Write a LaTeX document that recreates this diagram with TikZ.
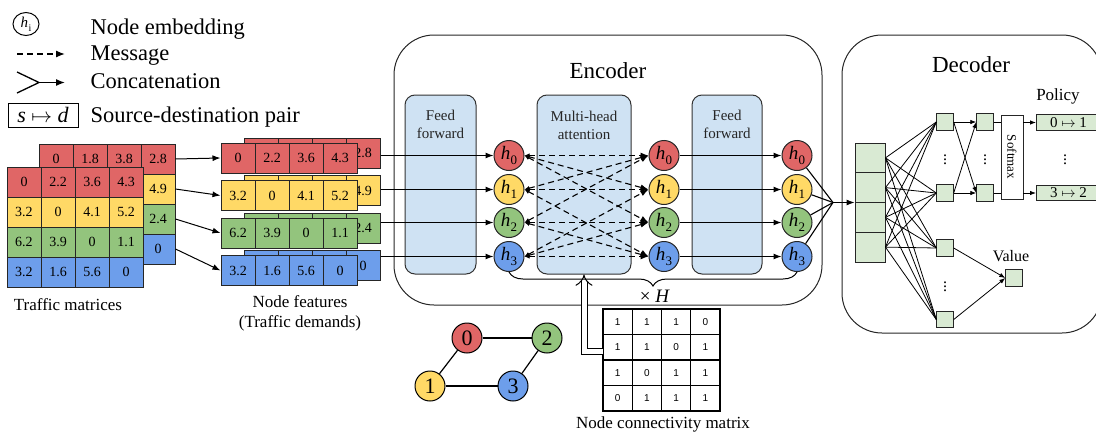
\documentclass[tikz,border=0pt]{standalone}
\usepackage{fontspec}
\setmainfont{Liberation Serif}
\newfontfamily\sansf{Liberation Sans}
\usetikzlibrary{arrows.meta,shapes.geometric,decorations.pathreplacing,calc}
\definecolor{cR}{HTML}{E06666}
\definecolor{cY}{HTML}{FFD966}
\definecolor{cG}{HTML}{93C47D}
\definecolor{cB}{HTML}{6D9EEB}
\definecolor{lblue}{HTML}{CFE2F3}
\definecolor{lgreen}{HTML}{D9EAD3}
\newcommand\fs[2]{\fontsize{#1}{#2}\selectfont}
\newcommand\hh[1]{\textit{h}\kern0.3pt\raisebox{-5pt}{\fs{13}{14}#1}}
\newcommand\hleg{\textit{h}\kern0.3pt\raisebox{-4pt}{\fs{10}{11}i}}
\begin{document}
\begin{tikzpicture}[x=1pt,y=-1pt,
  cell/.style={draw=black!85, line width=1pt, minimum width=34pt, minimum height=30pt, inner sep=0pt, font=\fs{14}{16}},
  hnode/.style={circle, draw=black!85, line width=1pt, minimum size=30pt, inner sep=0pt, font=\fs{19}{20}},
  block/.style={draw=black!80, line width=1pt, fill=lblue, rounded corners=10pt, minimum height=179pt, inner sep=0pt},
  blocktext/.style={font=\fs{15}{18}, align=center, text=black!85},
  arr/.style={line width=1pt, -{Latex[length=8pt,width=6pt]}},
  msg/.style={line width=1.1pt, dash pattern=on 6pt off 4pt, {Latex[length=5pt,width=4.5pt]}-{Latex[length=8pt,width=6pt]}},
  sbox/.style={draw=black!85, line width=0.9pt, fill=lgreen, minimum size=16.5pt, inner sep=0pt},
  thinl/.style={line width=0.8pt},
  sarr/.style={line width=0.8pt, -{Latex[length=6pt,width=4.5pt]}},
  gnode/.style={circle, draw, line width=1pt, minimum size=30pt, inner sep=0pt, font=\fs{22}{24}},
  cmcell/.style={draw, line width=1.2pt, minimum width=29.25pt, minimum height=25.5pt, inner sep=0pt, font=\sansf\fs{10}{12}},
  container/.style={draw=black!85, line width=1pt, rounded corners=40pt, inner sep=0pt},
  lgtext/.style={anchor=base west, font=\fs{22.5}{26}},
  lbl/.style={font=\fs{17}{20}, align=center},
  title/.style={font=\fs{23}{26}},
]
\useasboundingbox (0,0) rectangle (1096,434);

% ---------------- legend ----------------
\node[ellipse, draw, line width=1pt, minimum width=26pt, minimum height=23pt, inner sep=0pt, font=\fs{15}{16}] (lgh) at (26,24) {\hleg};
\node[lgtext] (lt1) at (87,34) {Node embedding};
\coordinate (lm1) at (17,54);
\coordinate (lm2) at (65,54);
\draw[line width=1.3pt, dash pattern=on 6pt off 4pt, -{Latex[length=9pt,width=7pt]}] (lm1) -- (lm2);
\node[lgtext] (lt2) at (87,60) {Message};
\coordinate (lc1) at (17,72);
\coordinate (lc2) at (17,93);
\coordinate (lc3) at (39,82.5);
\coordinate (lc4) at (65,82.5);
\draw[line width=1.3pt] (lc1) -- (lc3) -- (lc2);
\draw[line width=1.3pt, -{Latex[length=9pt,width=7pt]}] (lc3) -- (lc4);
\node[lgtext] (lt3) at (87,88) {Concatenation};
\node[draw, line width=1pt, minimum width=70pt, minimum height=24pt, inner sep=0pt, font=\fs{22}{24}] (lsd) at (43,115) {\textit{s} $\mapsto$ \textit{d}};
\node[lgtext] (lt4) at (87,122) {Source-destination pair};

% ---------------- traffic matrices ----------------
\foreach \v [count=\c from 0] in {0,1.8,3.8}
  \node[cell, fill=cR] (tb-0-\c) at (56+34*\c,159) {\v};
\foreach \v/\col [count=\r from 0] in {2.8/cR,4.9/cY,2.4/cG,0/cB}
  \node[cell, fill=\col] (tb-\r-3) at (158,159+30*\r) {\v};
\foreach \col/\vals [count=\r from 0] in {cR/{0,2.2,3.6,4.3},cY/{3.2,0,4.1,5.2},cG/{6.2,3.9,0,1.1},cB/{3.2,1.6,5.6,0}}
  \foreach \v [count=\c from 0] in \vals
    \node[cell, fill=\col] (tf-\r-\c) at (24+34*\c,182+30*\r) {\v};
\node[lbl] (tml) at (68,305) {Traffic matrices};

% ---------------- node features ----------------
\foreach \col/\v [count=\r from 0] in {cR/2.8,cY/4.9,cG/2.4,cB/0}{
  \foreach \c in {0,1,2}
    \node[cell, fill=\col] (nb-\r-\c) at (261+34*\c,153+37.5*\r) {};
  \node[cell, fill=\col] (nb-\r-3) at (363,153+37.5*\r) {\v};
}
\foreach \col/\vals [count=\r from 0] in {cR/{0,2.2,3.6,4.3},cY/{3.2,0,4.1,5.2},cG/{6.2,3.9,0,1.1},cB/{3.2,1.6,5.6,0}}
  \foreach \v [count=\c from 0] in \vals
    \node[cell, fill=\col] (nf-\r-\c) at (238+34*\c,158+37.5*\r) {\v};
\node[lbl] (nfl) at (300,313) {Node features\\(Traffic demands)};
\foreach \r in {0,1,2,3}
  \draw[arr] (tb-\r-3.east) -- (nf-\r-0.west);

% ---------------- encoder ----------------
\node[container, minimum width=428pt, minimum height=270pt] (enc) at (608,170) {};
\node[title] (enct) at (608,71) {Encoder};
\node[block, minimum width=71pt] (ff1) at (440.5,184.5) {};
\node[blocktext] (ff1t) at (440.5,124) {Feed\\forward};
\node[block, minimum width=94pt] (mha) at (584,184.5) {};
\node[blocktext] (mhat) at (584,125) {Multi-head\\attention};
\node[block, minimum width=70pt] (ff2) at (727,184.5) {};
\node[blocktext] (ff2t) at (727,124) {Feed\\forward};

\foreach \col/\y [count=\r from 0] in {cR/155.5,cY/189.5,cG/222.5,cB/256.5}{
  \node[hnode, fill=\col] (ha-\r) at (509,\y) {\hh{\r}};
  \node[hnode, fill=\col] (hb-\r) at (664,\y) {\hh{\r}};
  \node[hnode, fill=\col] (hc-\r) at (797,\y) {\hh{\r}};
}
\foreach \r in {0,1,2,3}{
  \draw[arr] (nb-\r-3.east |- ha-\r) -- (ha-\r);
  \draw[arr] (hb-\r) -- (hc-\r);
}
\foreach \i/\j in {0/0,1/1,2/2,3/3,0/1,1/0,0/2,2/0,1/3,3/1,2/3,3/2}
  \draw[msg] (ha-\i.east) -- (hb-\j.west);

\draw[line width=1pt, decorate, decoration={brace, amplitude=14pt, mirror}] (ha-3.south) -- (hc-3.south);
\node[font=\fs{19}{20}] (xh) at (655,296) {× \textit{H}};

% ---------------- graph ----------------
\node[gnode, fill=cR] (g0) at (467,338) {0};
\node[gnode, fill=cG] (g2) at (547,338) {2};
\node[gnode, fill=cY] (g1) at (430,386) {1};
\node[gnode, fill=cB] (g3) at (513,386) {3};
\draw[line width=1.2pt] (g0) -- (g2);
\draw[line width=1.2pt] (g0) -- (g1);
\draw[line width=1.2pt] (g1) -- (g3);
\draw[line width=1.2pt] (g3) -- (g2);

% ---------------- connectivity matrix ----------------
\foreach \vals [count=\r from 0] in {{1,1,1,0},{1,1,0,1},{1,0,1,1},{0,1,1,1}}
  \foreach \v [count=\c from 0] in \vals
    \node[cmcell] (cm-\r-\c) at (617.6+29.25*\c,321.75+25.5*\r) {\v};
\node[font=\fs{17}{20}] (cml) at (663,424) {Node connectivity matrix};
\coordinate (dst) at (603,351);
\draw[line width=1pt, double, double distance=5pt, -{Implies}] (dst) -| (mha.south);

% ---------------- decoder ----------------
\node[container, minimum width=260pt, minimum height=298pt] (dec) at (972,184) {};
\node[title] (dect) at (971,65) {Decoder};
\foreach \r in {0,1,2,3}
  \node[sbox, minimum width=30pt, minimum height=29.75pt] (st-\r) at (870,157.875+29.75*\r) {};
\coordinate (cc) at (833,202.5);
\foreach \r in {0,1,2,3}
  \draw[line width=1.1pt] (hc-\r) -- (cc);
\draw[arr] (cc) -- (cc -| st-1.west);

\node[sbox] (d1-0) at (945,122) {};
\node[sbox] (d1-1) at (945,193) {};
\node[sbox] (d1-2) at (945,248) {};
\node[sbox] (d1-3) at (945,319.5) {};
\foreach \r in {0,1,2,3}
  \foreach \k in {0,1,2,3}
    \draw[thinl] (st-\r.east) -- (d1-\k.west);
\node[font=\fs{16}{18}, inner sep=0pt] (dt1) at (945,157) {$\vdots$};
\node[font=\fs{16}{18}, inner sep=0pt] (dt2) at (945,284) {$\vdots$};
\node[sbox] (d2-0) at (985,122) {};
\node[sbox] (d2-1) at (985,193) {};
\node[font=\fs{16}{18}, inner sep=0pt] (dt3) at (985,157) {$\vdots$};
\foreach \a in {0,1}
  \foreach \b in {0,1}
    \draw[sarr] (d1-\a.east) -- (d2-\b.west);
\node[draw=black!85, line width=0.9pt, fill=white, minimum width=22pt, minimum height=84pt, inner sep=0pt, font=\fs{13}{14}] (sm) at (1012,157) {\rotatebox{-90}{Softmax}};
\node[sbox, anchor=west, minimum width=64pt, minimum height=15.5pt, font=\fs{15}{16}] (p0) at (1036,122.5) {0 $\mapsto$ 1};
\node[sbox, anchor=west, minimum width=64pt, minimum height=15.5pt, font=\fs{15}{16}] (p1) at (1036,193) {3 $\mapsto$ 2};
\node[font=\fs{16}{18}, inner sep=0pt] (dt4) at (1065,157) {$\vdots$};
\draw[thinl] (d2-0.east) -- (d2-0 -| sm.west);
\draw[thinl] (d2-1.east) -- (d2-1 -| sm.west);
\draw[sarr] (p0 -| sm.east) -- (p0.west);
\draw[sarr] (p1 -| sm.east) -- (p1.west);
\node[font=\fs{17}{18}] (polt) at (1058,96) {Policy};
\node[sbox] (val) at (1014,278) {};
\node[font=\fs{16}{18}] (valt) at (1011,256) {Value};
\draw[sarr] (d1-2.east) -- (val.west);
\draw[sarr] (d1-3.east) -- (val.west);
\end{tikzpicture}
\end{document}
